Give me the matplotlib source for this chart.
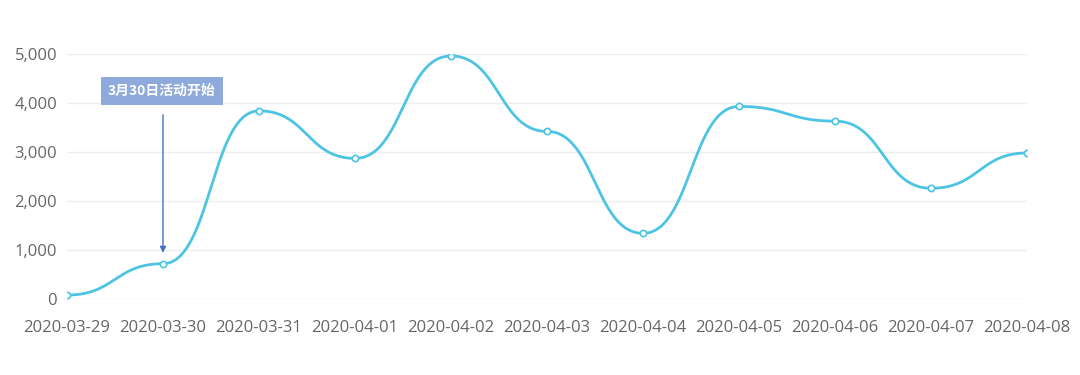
import numpy as np
import matplotlib
matplotlib.use("Agg")
import matplotlib.pyplot as plt

# Data
dates = ["2020-03-29", "2020-03-30", "2020-03-31", "2020-04-01", "2020-04-02",
         "2020-04-03", "2020-04-04", "2020-04-05", "2020-04-06", "2020-04-07",
         "2020-04-08"]
values = [80, 720, 3840, 2870, 4960, 3420, 1340, 3930, 3630, 2260, 2980]
y_ticks = [0, 1000, 2000, 3000, 4000, 5000]
note_text = "3月30日活动开始"
note_index = 1

plt.rcParams['font.family'] = ['Open Sans', 'Noto Sans CJK SC', 'DejaVu Sans']

line_color = "#4DC4E4"

# smooth curve: cubic bezier per segment with flat handles at each point
x = np.arange(len(values), dtype=float)
y = np.array(values, dtype=float)
t = np.linspace(0, 1, 60)
k = 0.5
xs, ys = [], []
for i in range(len(x) - 1):
    x0, x1, y0, y1 = x[i], x[i + 1], y[i], y[i + 1]
    dx = x1 - x0
    px = [x0, x0 + k * dx, x1 - k * dx, x1]
    py = [y0, y0, y1, y1]
    b = [(1 - t) ** 3, 3 * (1 - t) ** 2 * t, 3 * (1 - t) * t ** 2, t ** 3]
    xs.append(sum(bi * p for bi, p in zip(b, px)))
    ys.append(sum(bi * p for bi, p in zip(b, py)))
xs = np.concatenate(xs)
ys = np.concatenate(ys)

fig = plt.figure(figsize=(10.8, 3.75), dpi=100)
ax = fig.add_axes([0.062, 0.2027, 0.889, 0.6533])

for v in y_ticks:
    ax.axhline(v, color="#EEEEEE", lw=1, zorder=0)

ax.plot(xs, ys, color=line_color, lw=2, zorder=2, solid_capstyle="round")
ax.plot(x, y, ls="none", marker="o", ms=4.5, mfc="white", mec=line_color,
        mew=1.2, zorder=3)

ax.set_xlim(0, len(values) - 1)
ax.set_ylim(0, 5000)
ax.set_xticks(x)
ax.set_xticklabels(dates)
ax.set_yticks(y_ticks)
ax.set_yticklabels(["{:,}".format(v) for v in y_ticks])
ax.tick_params(axis="both", length=0, labelsize=12, labelcolor="#666666")
ax.tick_params(axis="x", pad=15)
ax.tick_params(axis="y", pad=7)
for s in ax.spines.values():
    s.set_visible(False)

# annotation
ax.annotate("", xy=(note_index, 940), xytext=(note_index, 3760),
            arrowprops=dict(arrowstyle="-|>", color="#4472C4", lw=1,
                            mutation_scale=9, shrinkA=0, shrinkB=0),
            zorder=4)
ax.text(note_index - 0.01, 4250, note_text, ha="center", va="center",
        color="white", fontsize=10, fontweight="bold",
        family=['Noto Sans CJK SC', 'DejaVu Sans'],
        bbox=dict(boxstyle="square,pad=0.5", fc="#8EA9DB", ec="none"),
        zorder=5, clip_on=False)

fig.savefig("out.png", dpi=100)
